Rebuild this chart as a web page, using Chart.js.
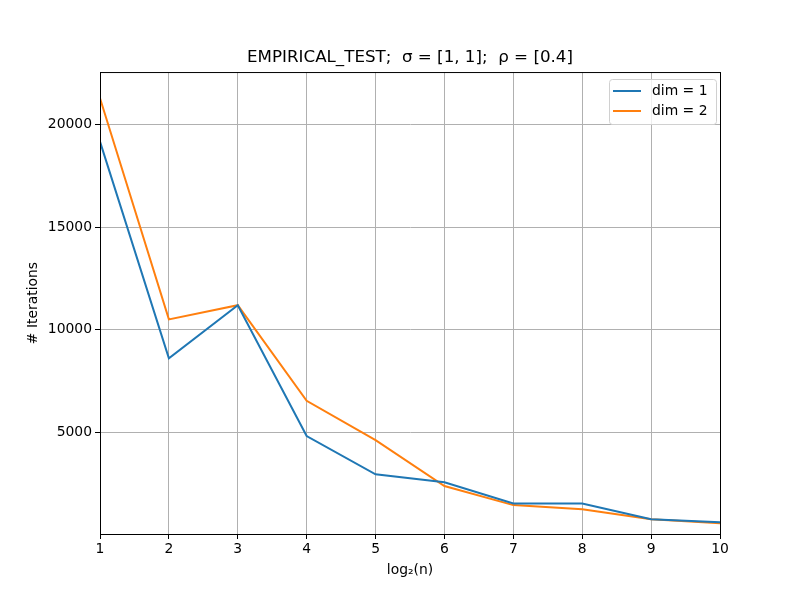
<!DOCTYPE html>
<html>
<head>
<meta charset="utf-8">
<script src="https://cdn.jsdelivr.net/npm/chart.js@4"></script>
<style>
  body { margin: 0; background: #fff; }
  #wrap { width: 800px; height: 600px; }
</style>
</head>
<body>
<div id="wrap"><canvas id="iterations-chart" width="800" height="600"></canvas></div>
<script>
/* Data */
let log2n = [1, 2, 3, 4, 5, 6, 7, 8, 9, 10]
let dim1Iterations = [19180, 8610, 11200, 4820, 2950, 2560, 1530, 1530, 755, 610]
let dim2Iterations = [21300, 10510, 11200, 6540, 4620, 2380, 1450, 1245, 755, 560]
let yTickValues = [5000, 10000, 15000, 20000]
let xTickValues = [1, 2, 3, 4, 5, 6, 7, 8, 9, 10]

Chart.defaults.font.family = '"DejaVu Sans", sans-serif'
Chart.defaults.color = '#000'

function toPoints(values) {
    return log2n.map(function (x, i) { return { x: x, y: values[i] } })
}

// draws the frame on all four sides plus a matplotlib style legend box
let framePlugin = {
    id: 'frame',
    afterDraw: function (chart) {
        let ctx = chart.ctx
        let area = chart.chartArea
        ctx.save()
        ctx.strokeStyle = '#000'
        ctx.lineWidth = 1
        ctx.strokeRect(area.left + 0.5, area.top + 0.5, area.right - area.left, area.bottom - area.top)

        // legend
        let boxX = 609, boxY = 79, boxW = 107, boxH = 45
        ctx.beginPath()
        ctx.roundRect(boxX + 0.5, boxY + 0.5, boxW, boxH, 3)
        ctx.fillStyle = 'rgba(255,255,255,0.8)'
        ctx.fill()
        ctx.strokeStyle = '#d0d0d0'
        ctx.stroke()
        ctx.font = '13.9px "DejaVu Sans", sans-serif'
        ctx.textBaseline = 'middle'
        chart.data.datasets.forEach(function (ds, i) {
            let y = boxY + 12 + i * 20
            ctx.strokeStyle = ds.borderColor
            ctx.lineWidth = 2
            ctx.beginPath()
            ctx.moveTo(613, y)
            ctx.lineTo(641, y)
            ctx.stroke()
            ctx.fillStyle = '#000'
            ctx.fillText(ds.label, 652, y)
        })
        ctx.restore()
    }
}

let ctx = document.querySelector('#iterations-chart').getContext('2d')

let iterationsChart = new Chart(ctx, {
    type: 'line',
    data: {
        datasets: [
            {
                label: 'dim = 1',
                data: toPoints(dim1Iterations),
                borderColor: '#1f77b4',
                backgroundColor: '#1f77b4',
                borderWidth: 2,
                pointRadius: 0,
                tension: 0
            },
            {
                label: 'dim = 2',
                data: toPoints(dim2Iterations),
                borderColor: '#ff7f0e',
                backgroundColor: '#ff7f0e',
                borderWidth: 2,
                pointRadius: 0,
                tension: 0
            }
        ]
    },
    options: {
        responsive: false,
        animation: false,
        layout: { padding: { top: 48, right: 80, bottom: 0, left: 0 } },
        plugins: {
            legend: { display: false },
            tooltip: { enabled: false },
            title: {
                display: true,
                fullSize: false,
                text: 'EMPIRICAL_TEST;  σ = [1, 1];  ρ = [0.4]',
                font: { size: 16.7, weight: 'normal' },
                padding: { top: 0, bottom: 4 }
            }
        },
        scales: {
            x: {
                type: 'linear',
                min: 1,
                max: 10,
                afterBuildTicks: function (scale) {
                    scale.ticks = xTickValues.map(function (v) { return { value: v } })
                },
                afterFit: function (scale) { scale.height = 66 },
                ticks: { font: { size: 13.9 }, padding: 2, maxRotation: 0, callback: function (v) { return String(v) } },
                grid: { color: '#b0b0b0', tickColor: '#000', tickLength: 5, lineWidth: 1 },
                border: { color: '#000' },
                title: {
                    display: true,
                    text: 'log₂(n)',
                    font: { size: 13.9 },
                    padding: { top: 0, bottom: 21 }
                }
            },
            y: {
                min: 40,
                max: 22575,
                afterBuildTicks: function (scale) {
                    scale.ticks = yTickValues.map(function (v) { return { value: v } })
                },
                afterFit: function (scale) { scale.width = 100 },
                ticks: { font: { size: 13.9 }, padding: 3, callback: function (v) { return String(v) } },
                grid: { color: '#b0b0b0', tickColor: '#000', tickLength: 5, lineWidth: 1 },
                border: { color: '#000' },
                title: {
                    display: true,
                    text: '# Iterations',
                    font: { size: 13.9 },
                    padding: { top: 25, bottom: 0 }
                }
            }
        }
    },
    plugins: [framePlugin]
})
</script>
</body>
</html>
